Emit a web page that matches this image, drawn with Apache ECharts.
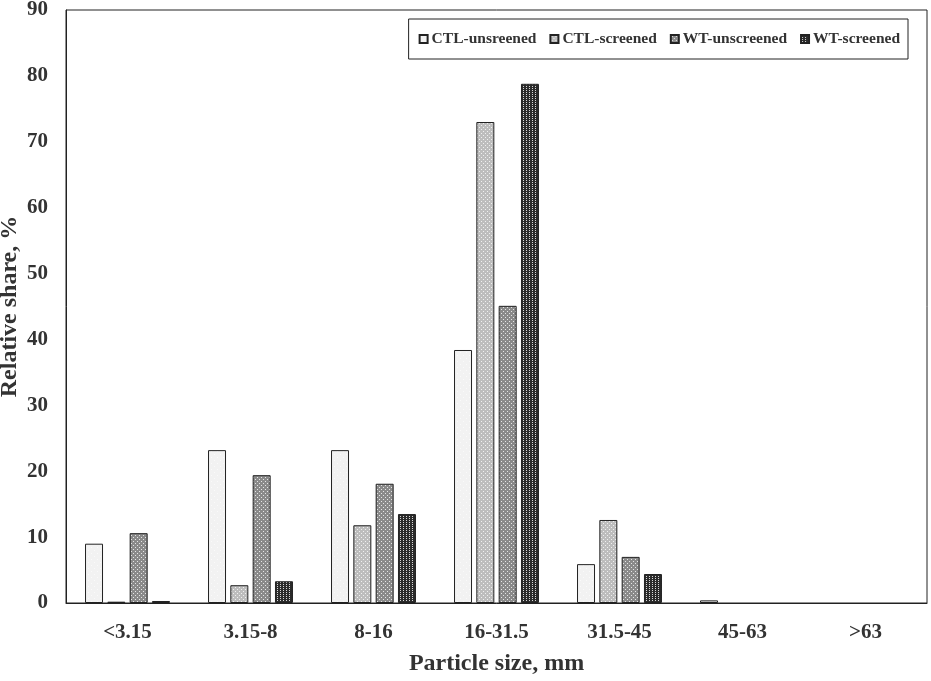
<!DOCTYPE html>
<html>
<head>
<meta charset="utf-8">
<script src="https://cdn.jsdelivr.net/npm/echarts@6/dist/echarts.min.js"></script>
<style>
  html, body { margin: 0; padding: 0; background: #fff; }
  #main { width: 931px; height: 681px; }
</style>
</head>
<body>
<div id="main"></div>
<script>
  // data
  var categories = ['<3.15', '3.15-8', '8-16', '16-31.5', '31.5-45', '45-63', '>63'];
  var ctlUnscreened = [9.0, 23.2, 23.2, 38.4, 5.9, 0.4, 0];
  var ctlScreened   = [0.2, 2.7, 11.8, 73.0, 12.6, 0, 0];
  var wtUnscreened  = [10.6, 19.4, 18.1, 45.1, 7.0, 0, 0];
  var wtScreened    = [0.3, 3.3, 13.5, 78.8, 4.4, 0, 0];
  var seriesNames = ['CTL-unsreened', 'CTL-screened', 'WT-unscreened', 'WT-screened'];

  // small dotted fills like the excel patterns
  function dots(bg, fg, w, h, pts) {
    var c = document.createElement('canvas');
    c.width = w; c.height = h;
    var ctx = c.getContext('2d');
    ctx.fillStyle = bg;
    ctx.fillRect(0, 0, w, h);
    ctx.fillStyle = fg;
    pts.forEach(function (p) { ctx.fillRect(p[0], p[1], 1, 1); });
    return { image: c, repeat: 'repeat' };
  }
  var fills = [
    dots('#f2f2f2', '#fafafa', 6, 6, [[1, 1], [4, 4]]),
    dots('#bdbdbd', '#f0f0f0', 4, 4, [[1, 1], [3, 3]]),
    dots('#8a8a8a', '#e6e6e6', 4, 4, [[1, 1], [3, 3]]),
    dots('#2b2b2b', '#d8d8d8', 3, 2, [[1, 0]])
  ];
  var values = [ctlUnscreened, ctlScreened, wtUnscreened, wtScreened];

  var font = '"Liberation Serif", "Times New Roman", serif';
  var series = [];
  for (var i = 0; i < values.length; i++) {
    series.push({
      name: seriesNames[i],
      type: 'bar',
      barWidth: 18,
      barGap: '24%',
      // empty classes are not drawn at all in the original
      data: values[i].map(function (v) { return v === 0 ? '-' : v; }),
      itemStyle: { color: fills[i], borderColor: '#222', borderWidth: 1 }
    });
  }

  var myChart = echarts.init(document.getElementById('main'));
  myChart.setOption({
    animation: false,
    backgroundColor: '#fff',
    textStyle: { fontFamily: font },
    grid: {
      left: 66, right: 4, top: 10, bottom: 78,
      containLabel: false, outerBoundsMode: 'none',
      show: true, borderColor: '#222', borderWidth: 1
    },
    legend: {
      data: seriesNames,
      right: 23, top: 19,
      padding: [12, 8, 12, 10],
      borderColor: '#222', borderWidth: 1,
      itemWidth: 8, itemHeight: 8, itemGap: 13,
      icon: 'rect',
      textStyle: { fontFamily: font, fontSize: 15.5, fontWeight: 'bold', color: '#333', padding: [0, 0, 0, -1] }
    },
    xAxis: {
      type: 'category',
      data: categories,
      name: 'Particle size, mm',
      nameLocation: 'middle',
      nameGap: 49,
      nameMoveOverlap: false,
      nameTextStyle: { fontFamily: font, fontSize: 24, fontWeight: 'bold', color: '#333' },
      axisLine: { lineStyle: { color: '#222' } },
      axisTick: { show: false },
      axisLabel: { fontFamily: font, fontSize: 21, fontWeight: 'bold', color: '#333', margin: 19 }
    },
    yAxis: {
      type: 'value',
      min: 0, max: 90, interval: 10,
      name: 'Relative share, %',
      nameLocation: 'middle',
      nameGap: 44,
      nameMoveOverlap: false,
      nameTextStyle: { fontFamily: font, fontSize: 24, fontWeight: 'bold', color: '#333' },
      axisLine: { show: true, lineStyle: { color: '#222' } },
      axisTick: { show: false },
      splitLine: { show: false },
      axisLabel: { fontFamily: font, fontSize: 21, fontWeight: 'bold', color: '#333', margin: 18 }
    },
    series: series
  });
</script>
</body>
</html>
